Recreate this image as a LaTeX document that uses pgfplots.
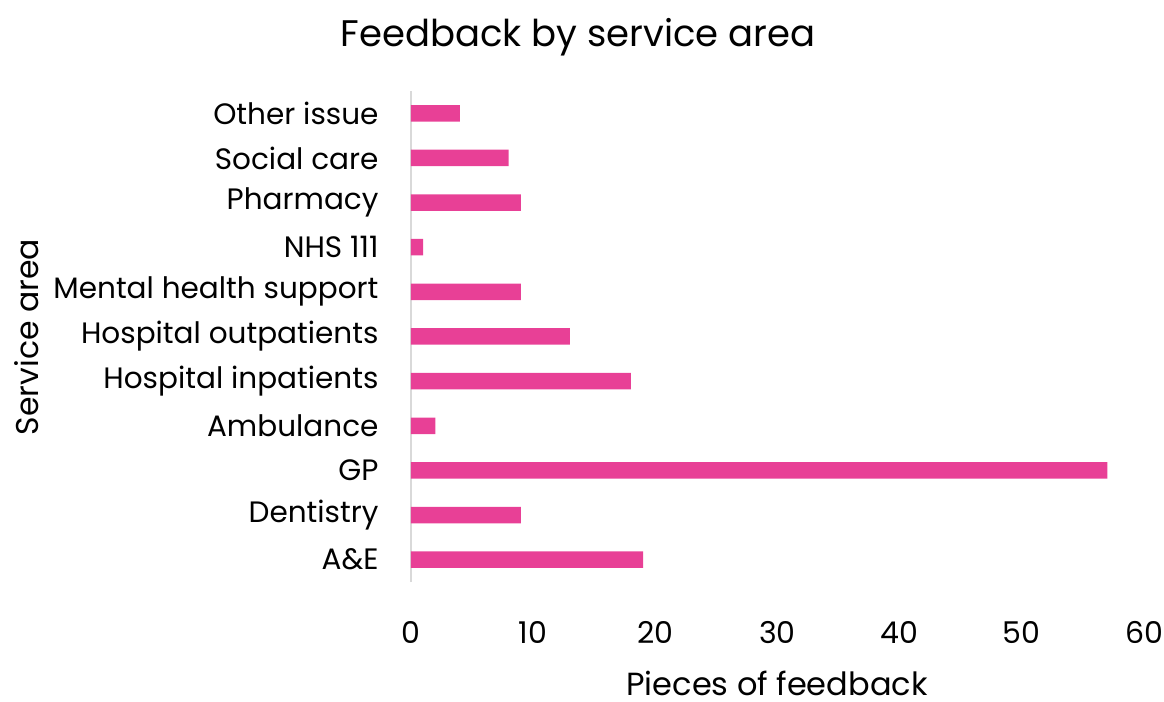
\documentclass[border=0pt]{standalone}
\usepackage{fontspec}
\setmainfont{Poppins}
\usepackage{pgfplots}
\pgfplotsset{compat=1.18}
\definecolor{barpink}{RGB}{232,64,150}
\definecolor{axgray}{RGB}{217,217,217}
\begin{document}
\begin{tikzpicture}
\useasboundingbox (-411bp,-120bp) rectangle (753bp,582bp);
\begin{axis}[
  at={(0,0)}, anchor=south west,
  scale only axis,
  width=733bp, height=491bp,
  xmin=0, xmax=60,
  ymin=-0.5, ymax=10.5,
  xbar, bar width=16.5bp,
  axis x line=none,
  axis y line*=left,
  y axis line style={axgray, line width=2bp, -},
  ytick={0,...,10},
  yticklabels={A\&E,Dentistry,GP,Ambulance,Hospital inpatients,Hospital outpatients,Mental health support,NHS 111,Pharmacy,Social care,Other issue},
  major tick length=0pt,
  yticklabel style={font=\fontsize{29.5bp}{34bp}\selectfont, xshift=-29bp},
  title={Feedback by service area},
  title style={at={(167bp,539bp)}, anchor=center, font=\fontsize{37bp}{42bp}\selectfont},
  ylabel={Service area},
  ylabel style={at={(-384bp,245bp)}, anchor=center, font=\fontsize{31.5bp}{36bp}\selectfont},
  clip=false,
]
\addplot[draw=none, fill=barpink] coordinates {
 (19,0) (9,1) (57,2) (2,3) (18,4) (13,5) (9,6) (1,7) (9,8) (8,9) (4,10)};
\end{axis}
\begin{axis}[
  at={(0,0)}, anchor=south west,
  scale only axis,
  width=733bp, height=491bp,
  xmin=0, xmax=60,
  ymin=-0.5, ymax=10.5,
  axis y line=none,
  axis x line*=bottom,
  x axis line style={draw=none},
  xtick={0,10,...,60},
  major tick length=0pt,
  xticklabel style={font=\fontsize{30bp}{34bp}\selectfont, yshift=-36bp},
  xlabel={Pieces of feedback},
  xlabel style={at={(366bp,-101bp)}, anchor=center, inner sep=0pt, font=\fontsize{32bp}{36bp}\selectfont},
  /pgf/number format/assume math mode=true,
]
\addplot[draw=none] coordinates {(0,0)};
\end{axis}
\end{tikzpicture}
\end{document}
